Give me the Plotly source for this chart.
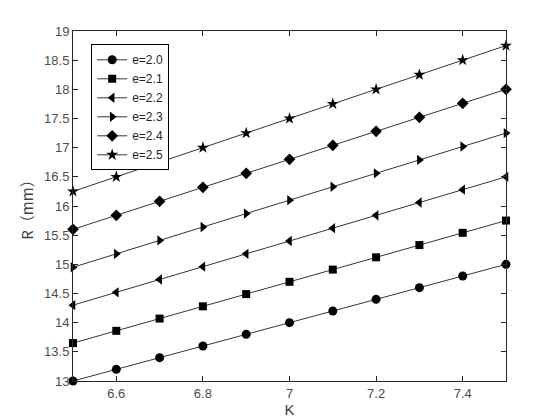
import plotly.graph_objects as go

K = [6.5, 6.6, 6.7, 6.8, 6.9, 7.0, 7.1, 7.2, 7.3, 7.4, 7.5]
R_e20 = [13.0, 13.2, 13.4, 13.6, 13.8, 14.0, 14.2, 14.4, 14.6, 14.8, 15.0]
R_e21 = [13.65, 13.86, 14.07, 14.28, 14.49, 14.7, 14.91, 15.12, 15.33, 15.54, 15.75]
R_e22 = [14.3, 14.52, 14.74, 14.96, 15.18, 15.4, 15.62, 15.84, 16.06, 16.28, 16.5]
R_e23 = [14.95, 15.18, 15.41, 15.64, 15.87, 16.1, 16.33, 16.56, 16.79, 17.02, 17.25]
R_e24 = [15.6, 15.84, 16.08, 16.32, 16.56, 16.8, 17.04, 17.28, 17.52, 17.76, 18.0]
R_e25 = [16.25, 16.5, 16.75, 17.0, 17.25, 17.5, 17.75, 18.0, 18.25, 18.5, 18.75]

names = ["e=2.0", "e=2.1", "e=2.2", "e=2.3", "e=2.4", "e=2.5"]
series = [R_e20, R_e21, R_e22, R_e23, R_e24, R_e25]
symbols = ["circle", "square", "triangle-left", "triangle-right", "diamond", "star"]
sizes = [9, 8, 9, 9, 9, 9]

x_tickvals = [6.6, 6.8, 7.0, 7.2, 7.4]
x_ticktext = ["6.6", "6.8", "7", "7.2", "7.4"]
y_tickvals = [13, 13.5, 14, 14.5, 15, 15.5, 16, 16.5, 17, 17.5, 18, 18.5, 19]
y_ticktext = ["13", "13.5", "14", "14.5", "15", "15.5", "16", "16.5", "17", "17.5", "18", "18.5", "19"]

fig = go.Figure()
for n, s, sym, sz in zip(names, series, symbols, sizes):
    fig.add_trace(go.Scatter(
        x=K, y=s, name=n, mode="lines+markers",
        line=dict(color="black", width=0.8),
        marker=dict(symbol=sym, size=sz, color="black"),
        cliponaxis=False,
    ))

axis_common = dict(
    showgrid=False, zeroline=False, showline=True, linecolor="#262626", linewidth=1,
    mirror="ticks", ticks="inside", ticklen=5, tickcolor="#262626", automargin=False,
    tickfont=dict(family="Liberation Sans, Arial", size=13, color="#4d4d4d"),
)

# page body has an 8px default margin; size and margins compensate for it
fig.update_layout(
    width=552, height=412,
    margin=dict(l=65, r=54, t=23, b=39),
    paper_bgcolor="white", plot_bgcolor="white",
    xaxis=dict(range=[6.5, 7.5], tickvals=x_tickvals, ticktext=x_ticktext,
               title=dict(text="K", font=dict(family="Liberation Sans, Arial", size=15, color="#404040"), standoff=2),
               **axis_common),
    yaxis=dict(range=[13, 19], tickvals=y_tickvals, ticktext=y_ticktext,
               title=dict(text="R（mm）", font=dict(family="Noto Sans CJK SC", size=15, color="#404040"), standoff=6),
               **axis_common),
    legend=dict(x=0.042, y=0.962, xanchor="left", yanchor="top",
                bordercolor="black", borderwidth=1, bgcolor="white",
                font=dict(family="Liberation Sans, Arial", size=12, color="#262626"),
                tracegroupgap=0, itemwidth=30),
    showlegend=True,
)

fig.write_html("out.html")
